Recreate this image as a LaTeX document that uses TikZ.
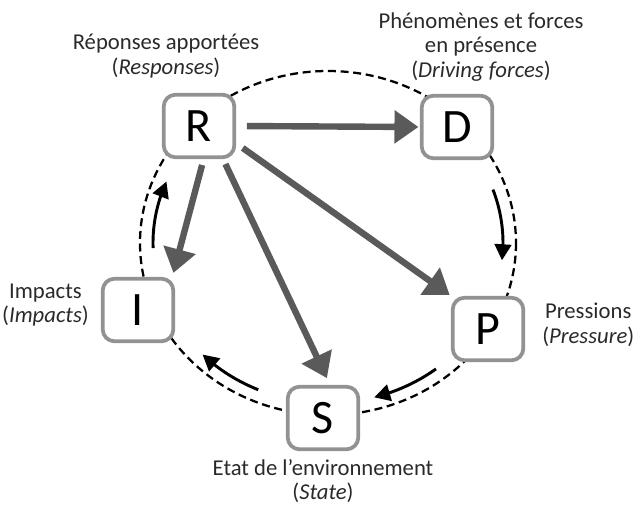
\documentclass[tikz,border=0pt]{standalone}
\usepackage{fontspec}
\setmainfont{Carlito}
\usetikzlibrary{arrows.meta,calc,bending}
\definecolor{dpsirInk}{HTML}{2A2A2A}
\definecolor{dpsirFrame}{HTML}{929292}
\definecolor{dpsirShaft}{HTML}{5A5A5A}

\begin{document}
\begin{tikzpicture}[x=0.75pt,y=-0.75pt,
  lbl/.style={align=center,inner sep=0pt,font=\fontsize{17}{18.5}\selectfont,text=dpsirInk}]
\useasboundingbox (0,0) rectangle (635,506);
\coordinate (c) at (328,243);
% dashed cycle
\draw[black,line width=1.7pt,dash pattern=on 6pt off 3.5pt] (c) ellipse[x radius=188,y radius=172];
% the five boxes
\foreach \nm/\x/\y in {R/199/126,D/457/127,P/488/329,S/323/418,I/138/310}{
  \node[draw=dpsirFrame,fill=white,line width=2.8pt,rounded corners=9pt,minimum width=53pt,minimum height=47pt,inner sep=0pt,font=\fontsize{36}{40}\selectfont] (\nm) at (\x,\y) {\nm};
}
% responses acting on the others
\foreach \a/\b/\sa/\sb in {R.east/D.west/8pt/1pt,R.-25/P.north west/6pt/1pt,R.-54/S.78/4pt/5.5pt,R.-82/I.44/4.5pt/3pt}{
  \draw[dpsirShaft,line width=4.8pt,-{Triangle[length=18pt,width=24pt]},shorten <=\sa,shorten >=\sb] (\a) -- (\b);
}
% cycle arrows
\foreach \s/\e in {-19.5/6.2,51.9/74.7,113.5/135.8,178.2/202.6}{
  \draw[black,line width=2.2pt,-{Triangle[length=12pt,width=12.5pt]}] ($(c)+(\s:175 and 160)$) arc[start angle=\s,end angle=\e,x radius=175,y radius=160];
}
\node[lbl] (rTxt) at (166,56) {Réponses apportées\\(\textit{Responses})};
\node[lbl] (dTxt) at (481,47) {Phénomènes et forces\\en présence\\(\textit{Driving forces})};
\node[lbl,anchor=west] (pTxt) at (542,325) {Pressions\\(\textit{Pressure})};
\node[lbl,anchor=east] (iTxt) at (89,305) {Impacts\\(\textit{Impacts})};
\node[lbl] (sTxt) at (323,481) {Etat de l’environnement\\(\textit{State})};
\end{tikzpicture}
\end{document}
